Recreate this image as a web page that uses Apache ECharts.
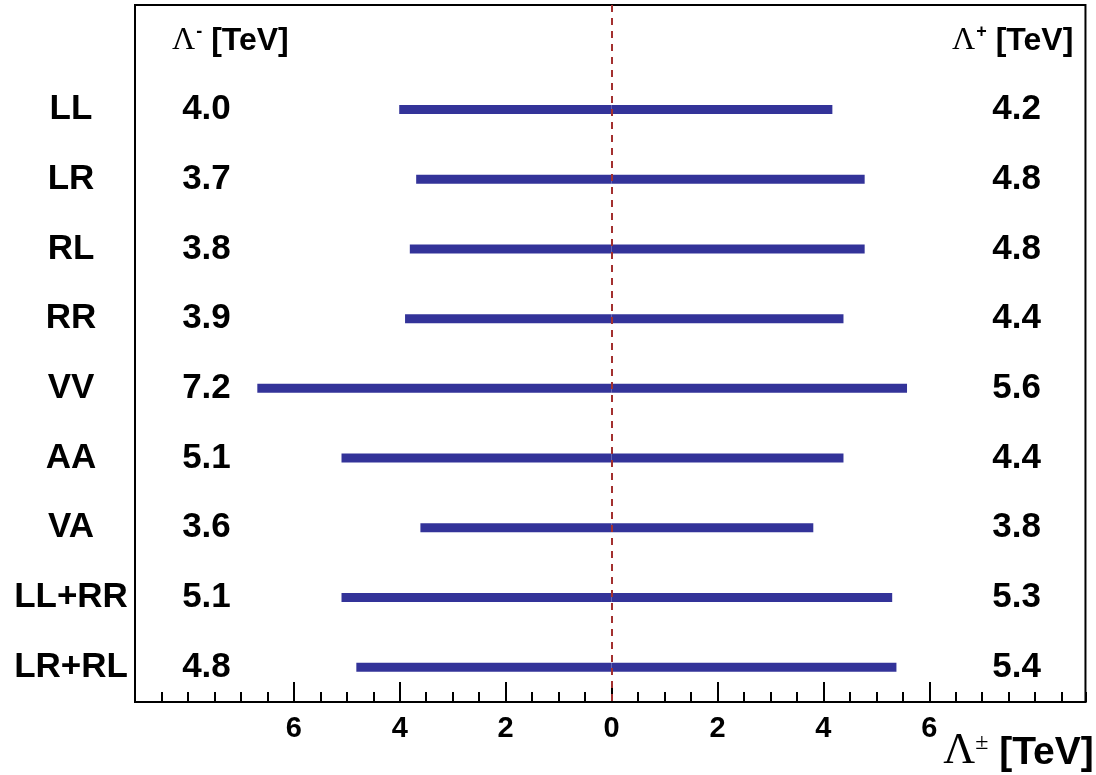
<!DOCTYPE html>
<html>
<head>
<meta charset="utf-8">
<script src="https://cdn.jsdelivr.net/npm/echarts@6/dist/echarts.min.js"></script>
<style>
  html, body { margin: 0; padding: 0; background: #fff; }
  #chart { width: 1096px; height: 775px; }
</style>
</head>
<body>
<div id="chart"></div>
<script>
// rows (first row holds the column headers)
const categories = ['', 'LL', 'LR', 'RL', 'RR', 'VV', 'AA', 'VA', 'LL+RR', 'LR+RL'];
// bar ends (TeV)
const lowerBars = [-4.01, -3.69, -3.81, -3.90, -6.69, -5.10, -3.61, -5.10, -4.82];
const upperBars = [4.17, 4.78, 4.78, 4.38, 5.58, 4.38, 3.81, 5.30, 5.38];
// quoted limits
const lowerText = ['4.0', '3.7', '3.8', '3.9', '7.2', '5.1', '3.6', '5.1', '4.8'];
const upperText = ['4.2', '4.8', '4.8', '4.4', '5.6', '4.4', '3.8', '5.3', '5.4'];
const majorTicks = [-6, -4, -2, 0, 2, 4, 6];

const sans = '"Liberation Sans", Arial, sans-serif';
const serif = '"Liberation Serif", "Times New Roman", serif';
const barColor = '#333399';

const rows = categories.slice(1);
const headerRich = {
  l: { fontFamily: serif, fontSize: 32, fontWeight: 'normal', color: '#000', lineHeight: 34, verticalAlign: 'bottom' },
  s: { fontFamily: sans, fontSize: 18, fontWeight: 'bold', color: '#000', lineHeight: 34, verticalAlign: 'top', padding: [0, 0, 0, 1] },
  t: { fontFamily: sans, fontSize: 32, fontWeight: 'bold', color: '#000', lineHeight: 34, verticalAlign: 'bottom' }
};

const chart = echarts.init(document.getElementById('chart'));
const option = {
  animation: false,
  backgroundColor: '#fff',
  grid: {
    show: true, left: 135, right: 6, top: 5, bottom: 73,
    borderColor: '#000', borderWidth: 2, backgroundColor: 'transparent'
  },
  xAxis: [
    {
      type: 'value', min: -9, max: 8.95,
      axisLine: { show: true, lineStyle: { color: '#000', width: 2 } },
      axisTick: { show: true, inside: true, length: 20, customValues: majorTicks, lineStyle: { color: '#000', width: 2 } },
      axisLabel: {
        customValues: majorTicks, margin: 12,
        fontFamily: sans, fontSize: 29, fontWeight: 'bold', color: '#000',
        formatter: v => String(Math.abs(v))
      },
      splitLine: { show: false },
      name: '{l|Λ}{s|±}{t| [TeV]}',
      nameLocation: 'end', nameGap: 0,
      nameTextStyle: {
        align: 'right', verticalAlign: 'top', padding: [29, 0, 0, 0],
        rich: {
          l: { fontFamily: serif, fontSize: 44, color: '#000', lineHeight: 42, verticalAlign: 'bottom' },
          s: { fontFamily: serif, fontSize: 24, color: '#000', lineHeight: 42, verticalAlign: 'top' },
          t: { fontFamily: sans, fontSize: 39, fontWeight: 'bold', color: '#000', lineHeight: 42, verticalAlign: 'bottom' }
        }
      }
    },
    {
      type: 'value', min: -9, max: 8.95, interval: 0.5, position: 'bottom',
      axisLine: { show: false },
      axisTick: { show: true, inside: true, length: 10, lineStyle: { color: '#000', width: 2 } },
      axisLabel: { show: false },
      splitLine: { show: false }
    }
  ],
  yAxis: {
    type: 'category', inverse: true, data: categories,
    axisLine: { show: false },
    axisTick: { show: false },
    axisLabel: { margin: 64, align: 'center', fontFamily: sans, fontSize: 35, fontWeight: 'bold', color: '#000' }
  },
  series: [
    {
      name: 'lower', type: 'bar', barWidth: 9, barGap: '-100%',
      itemStyle: { color: barColor },
      data: ['-'].concat(lowerBars),
      markLine: {
        silent: true, symbol: 'none', label: { show: false },
        lineStyle: { color: '#a3302f', width: 2, type: [7, 6] },
        data: [{ xAxis: 0 }]
      }
    },
    {
      name: 'upper', type: 'bar', barWidth: 9, barGap: '-100%',
      itemStyle: { color: barColor },
      data: ['-'].concat(upperBars)
    },
    {
      name: 'lowerText', type: 'scatter', symbolSize: 0, itemStyle: { opacity: 1 },
      data: rows.map((r, i) => ({ value: [-7.65, r], text: lowerText[i] })),
      label: { show: true, position: 'inside', formatter: p => p.data.text,
        fontFamily: sans, fontSize: 35, fontWeight: 'bold', color: '#000' }
    },
    {
      name: 'upperText', type: 'scatter', symbolSize: 0, itemStyle: { opacity: 1 },
      data: rows.map((r, i) => ({ value: [7.65, r], text: upperText[i] })),
      label: { show: true, position: 'inside', formatter: p => p.data.text,
        fontFamily: sans, fontSize: 35, fontWeight: 'bold', color: '#000' }
    },
    {
      name: 'headers', type: 'scatter', symbolSize: 0, itemStyle: { opacity: 1 },
      data: [
        { value: [-8.3, ''], text: '{l|Λ}{s|-}{t| [TeV]}', align: 'left' },
        { value: [8.72, ''], text: '{l|Λ}{s|+}{t| [TeV]}', align: 'right' }
      ].map(d => ({ value: d.value, text: d.text, label: { align: d.align } })),
      label: { show: true, position: 'inside', formatter: p => p.data.text, rich: headerRich }
    }
  ]
};
chart.setOption(option);
</script>
</body>
</html>
